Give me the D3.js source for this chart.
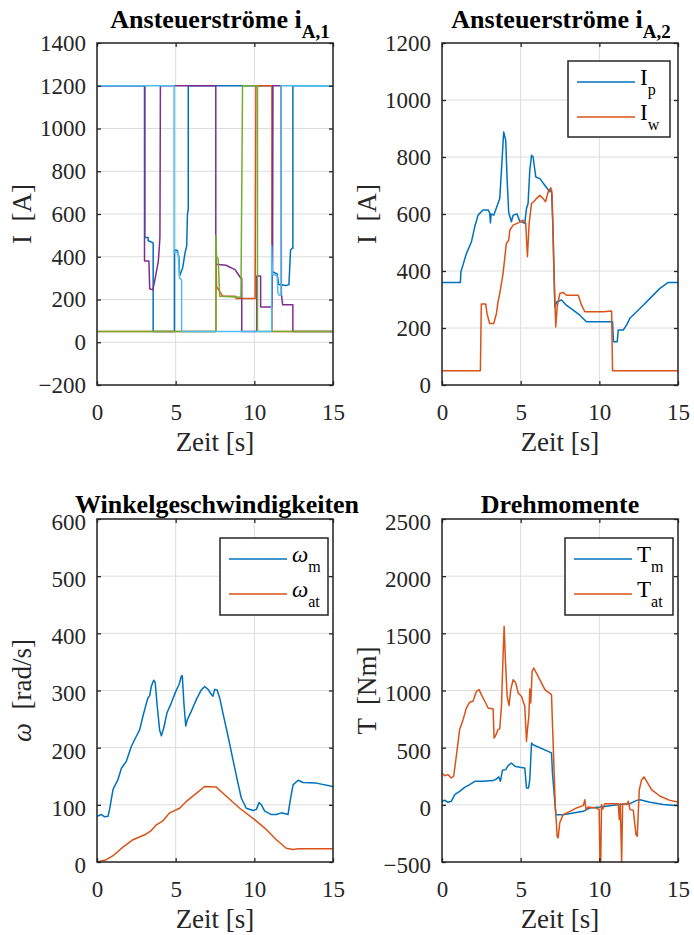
<!DOCTYPE html>
<html>
<head>
<meta charset="utf-8">
<script src="https://cdn.jsdelivr.net/npm/d3@7"></script>
<style>
  body { margin: 0; background: #fff; }
  svg { display: block; }
</style>
</head>
<body>
<svg id="fig" width="694" height="935"></svg>
<script>
// --- Daten ---
const xTicks = [0, 5, 10, 15];

// Ansteuerströme i_A,1 (fünf Ventile)
const a1BlauT  = [0, 3.04, 3.04, 3.25, 3.25, 3.42, 3.57, 3.57, 4.92, 4.92, 5.1, 5.2, 5.25, 5.45, 5.6, 5.7, 5.75, 5.8, 5.8, 11.15, 11.15, 11.45, 11.55, 12.0, 12.2, 12.3, 12.4, 12.45, 12.45, 15];
const a1BlauV  = [1200, 1200, 490, 490, 475, 470, 465, 50, 50, 430, 430, 400, 310, 350, 420, 450, 600, 620, 1200, 1200, 330, 320, 270, 265, 270, 430, 440, 440, 1200, 1200];
const a1OrangeT = [0, 7.56, 7.56, 7.6, 7.9, 8.0, 8.8, 8.85, 10.05, 10.1, 11.12, 11.12, 15];
const a1OrangeV = [50, 50, 400, 260, 225, 215, 215, 205, 205, 1200, 1200, 50, 50];
const a1LilaT  = [0, 3.02, 3.02, 3.3, 3.35, 3.55, 3.7, 3.9, 4.0, 4.03, 7.55, 7.55, 8.2, 8.77, 9.05, 9.13, 9.2, 9.2, 10.15, 10.15, 10.4, 10.4, 11.12, 11.15, 11.18, 11.7, 11.72, 11.8, 12.45, 12.45, 15];
const a1LilaV  = [1200, 1200, 380, 380, 250, 245, 300, 380, 490, 1200, 1200, 365, 360, 340, 310, 300, 300, 50, 50, 310, 310, 165, 165, 330, 1200, 1200, 225, 175, 175, 50, 50];
const a1GruenT = [0, 7.55, 7.55, 7.6, 7.7, 7.8, 9.15, 9.25, 10.2, 10.2, 15];
const a1GruenV = [50, 50, 500, 400, 390, 215, 210, 1200, 1200, 50, 50];
const a1HellT  = [0, 4.9, 4.9, 5.15, 5.25, 5.38, 5.38, 11.1, 11.1, 11.15, 11.45, 11.5, 11.6, 11.7, 11.7, 15];
const a1HellV  = [1200, 1200, 420, 420, 300, 290, 50, 50, 450, 320, 310, 230, 220, 220, 1200, 1200];

// Ansteuerströme i_A,2
const ipT = [0, 1.17, 1.2, 1.55, 1.87, 2.08, 2.29, 2.61, 2.93, 3.03, 3.08, 3.12, 3.29, 3.35, 3.56, 3.67, 3.78, 3.92, 4.05, 4.14, 4.24, 4.41, 4.52, 4.77, 4.94, 5.26, 5.37, 5.47, 5.58, 5.69, 5.79, 5.96, 6.22, 6.53, 6.85, 6.96, 7.06, 7.17, 7.3, 7.6, 7.9, 8.34, 8.76, 9.18, 9.82, 10.84, 10.9, 11.14, 11.2, 11.52, 11.73, 11.94, 12.37, 12.79, 13.22, 13.85, 14.38, 15];
const ipV = [360, 360, 397, 461, 502, 555, 596, 614, 614, 605, 569, 600, 596, 605, 637, 654, 754, 888, 859, 719, 605, 573, 596, 600, 575, 567, 619, 637, 754, 806, 800, 730, 724, 701, 678, 685, 543, 274, 292, 298, 280, 263, 245, 222, 222, 222, 152, 152, 193, 193, 210, 234, 257, 280, 304, 339, 360, 360];
const iwT = [0, 2.44, 2.5, 2.78, 2.86, 3.03, 3.29, 3.46, 3.56, 3.67, 3.88, 4.09, 4.24, 4.31, 4.52, 4.84, 5.15, 5.32, 5.43, 5.54, 5.69, 5.83, 6.0, 6.22, 6.43, 6.58, 6.75, 6.92, 7.0, 7.1, 7.23, 7.32, 7.49, 7.7, 7.91, 8.66, 8.87, 9.08, 9.4, 10.25, 10.78, 10.84, 15];
const iwV = [50, 50, 284, 284, 251, 216, 216, 251, 292, 321, 391, 497, 508, 543, 561, 569, 578, 567, 450, 567, 637, 643, 654, 666, 654, 643, 678, 692, 666, 427, 204, 274, 321, 325, 315, 315, 280, 257, 257, 257, 260, 50, 50];

// Winkelgeschwindigkeiten
const wmT = [0, 0.28, 0.49, 0.7, 0.8, 1.02, 1.33, 1.55, 1.86, 2.18, 2.5, 2.71, 2.92, 3.14, 3.24, 3.35, 3.45, 3.6, 3.7, 3.83, 3.98, 4.09, 4.24, 4.45, 4.72, 5.0, 5.21, 5.36, 5.42, 5.53, 5.64, 5.74, 6.0, 6.31, 6.63, 6.84, 7.06, 7.27, 7.37, 7.48, 7.63, 7.8, 8.0, 8.33, 8.64, 8.96, 9.17, 9.49, 9.92, 10.13, 10.3, 10.45, 10.66, 11.08, 11.4, 11.72, 12.14, 12.29, 12.46, 12.78, 13.09, 13.94, 15];
const wmV = [80, 83, 79, 80, 92, 127, 144, 164, 176, 202, 220, 231, 255, 278, 287, 291, 307, 318, 314, 272, 231, 221, 234, 261, 278, 298, 310, 325, 326, 275, 238, 249, 264, 284, 301, 307, 302, 293, 290, 302, 301, 287, 261, 220, 179, 138, 112, 94, 90, 92, 104, 100, 89, 83, 83, 86, 83, 109, 135, 143, 139, 138, 132];
const watT = [0, 0.59, 1.02, 1.65, 2.29, 3.14, 3.45, 3.77, 4.19, 4.62, 5.25, 5.68, 6.31, 6.84, 7.58, 8.22, 9.07, 10.02, 10.76, 11.4, 12.03, 12.46, 12.78, 15];
const watV = [0, 4, 11, 26, 39, 49, 55, 65, 72, 86, 94, 106, 120, 132, 131, 115, 94, 74, 57, 39, 24, 22, 23, 23];

// Drehmomente
const tmT = [0, 0.17, 0.38, 0.59, 0.81, 1.12, 1.44, 1.76, 2.08, 2.61, 3.25, 3.46, 3.61, 3.71, 3.84, 4.05, 4.2, 4.41, 4.63, 4.94, 5.26, 5.37, 5.5, 5.58, 5.69, 5.79, 6.96, 7.02, 7.24, 7.7, 8.34, 8.98, 9.4, 10.04, 10.67, 11.31, 11.95, 12.37, 12.58, 13.22, 14.07, 15];
const tmV = [31, 40, 22, 31, 89, 118, 153, 177, 206, 206, 212, 226, 244, 206, 302, 308, 343, 366, 337, 328, 322, 148, 148, 220, 541, 526, 454, 279, -86, -86, -71, -57, -27, -19, -7, 2, 10, 39, 45, 22, 2, -7];
const tatT = [0, 0.17, 0.38, 0.59, 0.74, 0.91, 1.12, 1.34, 1.55, 1.76, 1.97, 2.19, 2.36, 2.5, 2.72, 2.93, 3.25, 3.31, 3.39, 3.56, 3.67, 3.78, 3.88, 3.95, 4.03, 4.14, 4.26, 4.37, 4.52, 4.69, 4.84, 5.05, 5.26, 5.33, 5.37, 5.43, 5.52, 5.58, 5.64, 5.73, 5.83, 6.11, 6.54, 6.96, 7.02, 7.2, 7.32, 7.38, 7.49, 7.7, 8.13, 8.55, 8.98, 9.08, 9.15, 9.29, 9.78, 9.93, 9.99, 10.04, 10.09, 10.14, 10.22, 10.35, 11.2, 11.27, 11.33, 11.42, 11.48, 11.73, 11.84, 11.95, 12.16, 12.33, 12.41, 12.54, 12.69, 12.84, 13.01, 13.32, 13.86, 14.49, 15];
const tatV = [279, 255, 264, 235, 250, 425, 658, 745, 847, 897, 906, 993, 1008, 964, 906, 847, 838, 585, 599, 658, 664, 862, 1299, 1561, 1270, 949, 868, 1008, 1095, 1066, 979, 949, 862, 672, 556, 658, 774, 1013, 891, 1168, 1197, 1124, 1008, 964, 716, -13, -275, -290, -154, -86, -57, -27, -7, 45, -42, -19, -27, -36, -42, -500, -500, 2, -36, 10, 10, -129, 10, -500, 10, 2, 31, -42, -48, -260, -275, 133, 220, 244, 206, 133, 75, 39, 25];

const blau = "#0072BD", orange = "#D95319", lila = "#7E2F8E", gruen = "#77AC30", hellblau = "#4DBEEE";
const schrift = "'Liberation Serif', 'Times New Roman', serif";
const dunkel = "#262626";

const panels = [
  { x0: 97, x1: 333, y0: 43, y1: 385, yDom: [-200, 1400], yTicks: d3.range(-200, 1401, 200),
    titel: "Ansteuerströme i", sub: "A,1", tdx: 5, ydy: 0, ylab: [["I", false], ["  [A]", false]],
    serien: [[a1BlauT, a1BlauV, blau], [a1OrangeT, a1OrangeV, orange], [a1LilaT, a1LilaV, lila],
             [a1GruenT, a1GruenV, gruen], [a1HellT, a1HellV, hellblau]], legende: null },
  { x0: 442, x1: 678, y0: 43, y1: 385, yDom: [0, 1200], yTicks: d3.range(0, 1201, 200),
    titel: "Ansteuerströme i", sub: "A,2", tdx: 1, ydy: 0, ylab: [["I", false], ["  [A]", false]],
    serien: [[ipT, ipV, blau], [iwT, iwV, orange]],
    legende: { box: [568, 61, 670, 137], eintraege: [["I", "p", false], ["I", "w", false]] } },
  { x0: 97, x1: 333, y0: 519, y1: 862, yDom: [0, 600], yTicks: d3.range(0, 601, 100),
    titel: "Winkelgeschwindigkeiten", sub: null, tdx: 2, ydy: 3, ylab: [["ω", true], ["  [rad/s]", false]],
    serien: [[wmT, wmV, blau], [watT, watV, orange]],
    legende: { box: [220, 538, 328, 615], eintraege: [["ω", "m", true], ["ω", "at", true]] } },
  { x0: 442, x1: 678, y0: 519, y1: 862, yDom: [-500, 2500], yTicks: d3.range(-500, 2501, 500),
    titel: "Drehmomente", sub: null, tdx: 0, ydy: 3, ylab: [["T", false], ["  [Nm]", false]],
    serien: [[tmT, tmV, blau], [tatT, tatV, orange]],
    legende: { box: [565, 538, 673, 615], eintraege: [["T", "m", false], ["T", "at", false]] } }
];

const svg = d3.select("#fig");
const fmt = d3.format("d");

panels.forEach((p, i) => {
  const x = d3.scaleLinear().domain([0, 15]).range([p.x0, p.x1]);
  const y = d3.scaleLinear().domain(p.yDom).range([p.y1, p.y0]);
  const g = svg.append("g");

  // Gitter
  g.selectAll(".gx").data(xTicks).enter().append("line")
    .attr("x1", d => x(d)).attr("x2", d => x(d)).attr("y1", p.y0).attr("y2", p.y1)
    .attr("stroke", "#dcdcdc").attr("stroke-width", 1);
  g.selectAll(".gy").data(p.yTicks).enter().append("line")
    .attr("x1", p.x0).attr("x2", p.x1).attr("y1", d => y(d)).attr("y2", d => y(d))
    .attr("stroke", "#dcdcdc").attr("stroke-width", 1);

  // Kurven
  g.append("clipPath").attr("id", "clip" + i).append("rect")
    .attr("x", p.x0).attr("y", p.y0 - 1).attr("width", p.x1 - p.x0).attr("height", p.y1 - p.y0 + 2);
  const line = d3.line().x(d => x(d[0])).y(d => y(d[1]));
  p.serien.forEach(s => {
    g.append("path")
      .attr("clip-path", `url(#clip${i})`)
      .attr("d", line(d3.zip(s[0], s[1])))
      .attr("fill", "none").attr("stroke", s[2]).attr("stroke-width", 1.5)
      .attr("stroke-linejoin", "round");
  });

  // Achsen (Box mit Ticks innen)
  const ax = [
    [d3.axisBottom(x).tickValues(xTicks), p.y1, true],
    [d3.axisTop(x).tickValues(xTicks), p.y0, false]
  ];
  ax.forEach(([a, pos, lab]) => {
    const sel = g.append("g").attr("transform", `translate(0,${pos})`)
      .call(a.tickFormat(fmt).tickSizeInner(-4).tickSizeOuter(0).tickPadding(lab ? 19 : 0));
    sel.attr("font-family", schrift);
    sel.select(".domain").remove();
    sel.selectAll("line").attr("stroke", dunkel).attr("stroke-width", 1.3);
    if (lab) sel.selectAll("text").attr("font-family", schrift).attr("font-size", 23).attr("fill", dunkel);
    else sel.selectAll("text").remove();
  });
  const ay = [
    [d3.axisLeft(y).tickValues(p.yTicks), p.x0, true],
    [d3.axisRight(y).tickValues(p.yTicks), p.x1, false]
  ];
  ay.forEach(([a, pos, lab]) => {
    const sel = g.append("g").attr("transform", `translate(${pos},0)`)
      .call(a.tickFormat(fmt).tickSizeInner(-4).tickSizeOuter(0).tickPadding(lab ? 11 : 0));
    sel.attr("font-family", schrift);
    sel.select(".domain").remove();
    sel.selectAll("line").attr("stroke", dunkel).attr("stroke-width", 1.3);
    if (lab) sel.selectAll("text").attr("font-family", schrift).attr("font-size", 23).attr("fill", dunkel)
      .attr("y", p.ydy);
    else sel.selectAll("text").remove();
  });
  g.append("rect").attr("x", p.x0).attr("y", p.y0).attr("width", p.x1 - p.x0).attr("height", p.y1 - p.y0)
    .attr("fill", "none").attr("stroke", dunkel).attr("stroke-width", 1.5);

  // Titel
  const cx = (p.x0 + p.x1) / 2;
  const t = g.append("text").attr("x", cx + p.tdx).attr("y", p.sub ? p.y0 - 15 : p.y0 - 6)
    .attr("text-anchor", "middle").attr("font-family", schrift).attr("font-size", 26)
    .attr("font-weight", "bold").attr("fill", "#000");
  t.append("tspan").text(p.titel);
  if (p.sub) t.append("tspan").attr("dy", 10).attr("font-size", 19).text(p.sub);

  // Achsentitel
  g.append("text").attr("x", cx).attr("y", p.y1 + 66)
    .attr("text-anchor", "middle").attr("font-family", schrift).attr("font-size", 27)
    .attr("fill", dunkel).text("Zeit [s]");
  const yl = g.append("text")
    .attr("transform", `translate(${p.x0 - 66},${(p.y0 + p.y1) / 2}) rotate(-90)`)
    .attr("text-anchor", "middle").attr("font-family", schrift).attr("font-size", 27)
    .attr("fill", dunkel).attr("xml:space", "preserve");
  p.ylab.forEach(([s, kursiv]) => yl.append("tspan").attr("font-style", kursiv ? "italic" : "normal").text(s));

  // Legende
  if (p.legende) {
    const [bx0, by0, bx1, by1] = p.legende.box;
    g.append("rect").attr("x", bx0).attr("y", by0).attr("width", bx1 - bx0).attr("height", by1 - by0)
      .attr("fill", "#fff").attr("stroke", dunkel).attr("stroke-width", 1.5);
    p.legende.eintraege.forEach(([haupt, sub, kursiv], k) => {
      const ly = by0 + 21 + k * 35;
      g.append("line").attr("x1", bx0 + 9).attr("x2", bx0 + 67).attr("y1", ly).attr("y2", ly)
        .attr("stroke", p.serien[k][2]).attr("stroke-width", 1.5);
      const lt = g.append("text").attr("x", bx0 + 72).attr("y", ly + 3)
        .attr("font-family", schrift).attr("font-size", 23).attr("fill", "#000");
      lt.append("tspan").attr("font-style", kursiv ? "italic" : "normal").text(haupt);
      lt.append("tspan").attr("dy", 10).attr("font-size", 16).text(sub);
    });
  }
});
</script>
</body>
</html>
